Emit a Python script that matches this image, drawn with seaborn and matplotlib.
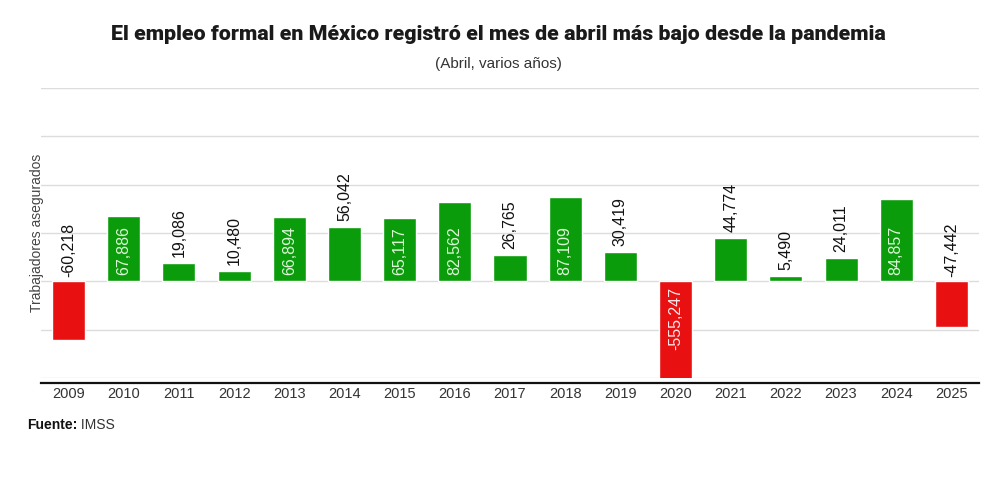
import matplotlib
matplotlib.use("Agg")
import matplotlib.pyplot as plt
import seaborn as sns
import pandas as pd

years = ["2009", "2010", "2011", "2012", "2013", "2014", "2015", "2016", "2017",
         "2018", "2019", "2020", "2021", "2022", "2023", "2024", "2025"]
values = [-60218, 67886, 19086, 10480, 66894, 56042, 65117, 82562, 26765,
          87109, 30419, -555247, 44774, 5490, 24011, 84857, -47442]

title = "El empleo formal en México registró el mes de abril más bajo desde la pandemia"
subtitle = "(Abril, varios años)"
ylabel = "Trabajadores asegurados"
source_bold = "Fuente:"
source_text = " IMSS"

GREEN = "#0a9c0a"
RED = "#e81010"

sns.set_theme(style="white")
plt.rcParams["font.family"] = ["Liberation Sans", "DejaVu Sans"]

df = pd.DataFrame({"year": years, "value": values})
df["sign"] = ["pos" if v >= 0 else "neg" for v in values]

fig = plt.figure(figsize=(10, 4.93), dpi=100)
ax = fig.add_axes([0.041, 0.2333, 0.938, 0.5882])

sns.barplot(data=df, x="year", y="value", hue="sign",
            palette={"pos": GREEN, "neg": RED}, dodge=False, width=0.6,
            legend=False, ax=ax, zorder=3, saturation=1)

ymin, ymax = -100000, 200000
ax.set_ylim(ymin, ymax)
ax.set_xlim(-0.5, len(years) - 0.5)
ax.set_yticks(range(ymin, ymax + 1, 50000))
ax.set_yticklabels([])
ax.yaxis.grid(True, color="#dcdcdc", lw=1, zorder=0)
ax.xaxis.grid(False)
for s in ["left", "right", "top"]:
    ax.spines[s].set_visible(False)
ax.spines["bottom"].set_position(("outward", 3.6))
ax.spines["bottom"].set_color("#111111")
ax.spines["bottom"].set_linewidth(1.6)
ax.tick_params(axis="both", length=0)
ax.tick_params(axis="x", labelsize=10.5, labelcolor="#333333", pad=3)
ax.tick_params(axis="y", pad=0)
ax.set_xlabel("")
ax.set_ylabel(ylabel, fontsize=10, color="#444444", labelpad=-2)

for i, v in enumerate(values):
    lbl = f"{v:,}"
    if v > 60000:
        ax.annotate(lbl, (i, 0), xytext=(0, 4.3), textcoords="offset points",
                    rotation=90, ha="center", va="bottom", fontsize=11.5,
                    color="#dcf7d6", zorder=5)
    elif v < ymin:
        ax.annotate(lbl, (i, 0), xytext=(0, -4.3), textcoords="offset points",
                    rotation=90, ha="center", va="top", fontsize=11.5,
                    color="#ffe8e8", zorder=5)
    elif v >= 0:
        ax.annotate(lbl, (i, v), xytext=(0, 4.3), textcoords="offset points",
                    rotation=90, ha="center", va="bottom", fontsize=11.5,
                    color="#111111", zorder=5)
    else:
        ax.annotate(lbl, (i, 0), xytext=(0, 3), textcoords="offset points",
                    rotation=90, ha="center", va="bottom", fontsize=11.5,
                    color="#111111", zorder=5)

# Title fitted to reference width
t = fig.text(0.4985, 1 - 35 / 493, title, ha="center", va="center",
             fontsize=15, fontweight="heavy", color="#1a1a1a",
             family=["Roboto", "Liberation Sans", "DejaVu Sans"])
fig.canvas.draw()
w = t.get_window_extent().width
t.set_fontsize(15 * 777 / w)

fig.text(0.4985, 1 - 64 / 493, subtitle, ha="center", va="center",
         fontsize=11, color="#333333")

fb = fig.text(0.027, 1 - 425 / 493, source_bold, ha="left", va="center",
              fontsize=10, fontweight="bold", color="#111111")
fig.canvas.draw()
bb = fb.get_window_extent()
fig.text(bb.x1 / 1000, 1 - 425 / 493, source_text, ha="left", va="center",
         fontsize=10, color="#333333")

fig.savefig("out.png", dpi=100, facecolor="white")
